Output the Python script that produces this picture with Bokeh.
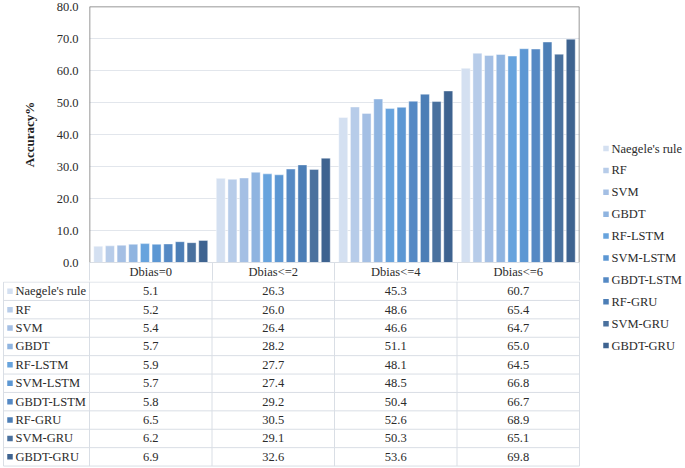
import numpy as np
from bokeh.plotting import figure
from bokeh.models import Range1d, FixedTicker, NumeralTickFormatter, Span
from bokeh.layouts import row, column
from bokeh.embed import file_html
from bokeh.resources import INLINE
from bokeh.core.properties import value

# ---------------- data ----------------
groups = ["Dbias=0", "Dbias<=2", "Dbias<=4", "Dbias<=6"]
series_names = ["Naegele's rule", "RF", "SVM", "GBDT", "RF-LSTM", "SVM-LSTM",
                "GBDT-LSTM", "RF-GRU", "SVM-GRU", "GBDT-GRU"]
naegele = [5.1, 26.3, 45.3, 60.7]
rf = [5.2, 26.0, 48.6, 65.4]
svm = [5.4, 26.4, 46.6, 64.7]
gbdt = [5.7, 28.2, 51.1, 65.0]
rf_lstm = [5.9, 27.7, 48.1, 64.5]
svm_lstm = [5.7, 27.4, 48.5, 66.8]
gbdt_lstm = [5.8, 29.2, 50.4, 66.7]
rf_gru = [6.5, 30.5, 52.6, 68.9]
svm_gru = [6.2, 29.1, 50.3, 65.1]
gbdt_gru = [6.9, 32.6, 53.6, 69.8]
series_values = [naegele, rf, svm, gbdt, rf_lstm, svm_lstm, gbdt_lstm, rf_gru, svm_gru, gbdt_gru]
y_ticks = [0, 10, 20, 30, 40, 50, 60, 70, 80]

colors = ["#d4e0f1", "#b7cce9", "#a4bfe4", "#8fb4e0", "#67a3dd", "#5c97d3",
          "#5589c4", "#4c7eb6", "#4a719e", "#3e6390"]

# ---------------- layout constants ----------------
FONT = "Liberation Serif"
TXT = "#2b2b2b"
GRID = "#e2e6ec"
TABLE_LINE = "#d9dee5"
FRAME = "#767676"

n_s = len(series_names)
n_g = len(groups)
PAD = 0.25
GW = n_s + 2 * PAD           # width of one group in slot units
X_END = GW * n_g
BAR_W = 0.77
FRAME_W = 490
LEFT_PX = 89                 # page x of the plot frame
AXIS_W = 88                  # width of the y-axis figure
RIGHT_PX = 16
MAIN_W = LEFT_PX + FRAME_W + RIGHT_PX
PX = FRAME_W / X_END         # px per slot
TOP_B = 6
PLOT_H = 257
HEAD_H = 18
TOP_H = TOP_B + PLOT_H + HEAD_H
H_ALL = 468
TAB_H = H_ALL - TOP_H
ROW_PX = 18.4
LEG_W = 685 - MAIN_W

y_rng = Range1d(0, 80)

# ---------------- y axis figure ----------------
pax = figure(width=AXIS_W, height=TOP_H, x_range=Range1d(0, 1), y_range=y_rng,
             x_axis_location=None, toolbar_location=None, output_backend="svg",
             min_border_left=AXIS_W - 1, min_border_right=0,
             min_border_top=TOP_B, min_border_bottom=HEAD_H)
pax.outline_line_color = None
pax.xgrid.visible = False
pax.ygrid.visible = False
ay = pax.yaxis[0]
ay.ticker = FixedTicker(ticks=y_ticks)
ay.formatter = NumeralTickFormatter(format="0.0")
ay.axis_line_color = None
ay.major_tick_line_color = None
ay.minor_tick_line_color = None
ay.major_tick_out = 0
ay.major_tick_in = 0
ay.major_label_standoff = 9
ay.major_label_text_font = FONT
ay.major_label_text_font_size = "12.5px"
ay.major_label_text_color = TXT
ay.axis_label = "Accuracy%"
ay.axis_label_text_font = FONT
ay.axis_label_text_font_size = "13px"
ay.axis_label_text_font_style = "bold"
ay.axis_label_text_color = "#1e1e1e"
ay.axis_label_standoff = 17

# ---------------- chart (with header row as category axis) ----------------
pa = figure(width=MAIN_W - AXIS_W, height=TOP_H, x_range=Range1d(0, X_END), y_range=y_rng,
            y_axis_location=None, toolbar_location=None, output_backend="svg",
            min_border_left=LEFT_PX - AXIS_W, min_border_right=RIGHT_PX,
            min_border_top=TOP_B, min_border_bottom=HEAD_H)
pa.outline_line_color = None
pa.xgrid.visible = False
pa.ygrid.ticker = FixedTicker(ticks=y_ticks)
pa.ygrid.grid_line_color = GRID
pa.ygrid.grid_line_width = 1

centers = [g * GW + GW / 2 for g in range(n_g)]
bounds = [g * GW for g in range(n_g + 1)]
ax = pa.xaxis[0]
ax.ticker = FixedTicker(ticks=centers, minor_ticks=bounds)
ax.major_label_overrides = {c: name for c, name in zip(centers, groups)}
ax.axis_line_color = TABLE_LINE
ax.major_tick_line_color = None
ax.major_tick_out = 0
ax.major_tick_in = 0
ax.minor_tick_line_color = TABLE_LINE
ax.minor_tick_out = 0
ax.minor_tick_in = -HEAD_H
ax.major_label_standoff = 2
ax.major_label_text_font = FONT
ax.major_label_text_font_size = "12.5px"
ax.major_label_text_color = TXT

g_idx = np.arange(n_g)
for i, (vals, col) in enumerate(zip(series_values, colors)):
    xs = g_idx * GW + PAD + i + 0.5
    pa.vbar(x=xs, top=vals, width=BAR_W, bottom=0, fill_color=col,
            line_color="white", line_width=0.6, line_alpha=0.7)

for loc, dim in [(0, "height"), (X_END, "height"), (80, "width")]:
    pa.add_layout(Span(location=loc, dimension=dim, line_color=FRAME, line_width=1.5))

# ---------------- data table rows ----------------
x_left = -LEFT_PX / PX
x_right = X_END + RIGHT_PX / PX
eps = 0.03
pb = figure(width=MAIN_W, height=TAB_H, x_range=Range1d(x_left, x_right),
            y_range=Range1d(TAB_H / ROW_PX - eps, -eps),
            x_axis_location=None, y_axis_location=None, toolbar_location=None,
            output_backend="svg", min_border=0)
pb.outline_line_color = None
pb.xgrid.visible = False
pb.ygrid.visible = False

TL = (3 - LEFT_PX) / PX      # table left border
SQ_X = (9.5 - LEFT_PX) / PX  # key square
LB_X = (15 - LEFT_PX) / PX   # row label text

x0s, y0s, x1s, y1s = [], [], [], []
for k in range(0, n_s + 1):
    x0s.append(TL); y0s.append(k); x1s.append(X_END); y1s.append(k)
for b in bounds:
    x0s.append(b); y0s.append(-eps); x1s.append(b); y1s.append(n_s)
x0s.append(TL); y0s.append(0); x1s.append(TL); y1s.append(n_s)
pb.segment(x0=x0s, y0=y0s, x1=x1s, y1=y1s, line_color=TABLE_LINE, line_width=1)

cx, cy, ct = [], [], []
for r, vals in enumerate(series_values):
    for g, v in enumerate(vals):
        cx.append(centers[g])
        cy.append(r + 0.5)
        ct.append(f"{v:.1f}")
pb.text(x=cx, y=cy, text=ct, text_font=value(FONT), text_font_size="12.5px",
        text_align="center", text_baseline="middle", text_color=TXT)

row_y = np.arange(n_s) + 0.5
pb.scatter(x=[SQ_X] * n_s, y=row_y, marker="square", size=5.5, fill_color=colors, line_color=None)
pb.text(x=[LB_X] * n_s, y=row_y, text=series_names, text_font=value(FONT),
        text_font_size="12.5px", text_align="left", text_baseline="middle", text_color=TXT)

# ---------------- legend ----------------
LEG_TOP = 148
LEG_STEP = 21.9
pl = figure(width=LEG_W, height=H_ALL, x_range=Range1d(0, LEG_W),
            y_range=Range1d((H_ALL - LEG_TOP) / LEG_STEP, -LEG_TOP / LEG_STEP),
            x_axis_location=None, y_axis_location=None, toolbar_location=None,
            output_backend="svg", min_border=0)
pl.outline_line_color = None
pl.xgrid.visible = False
pl.ygrid.visible = False
leg_y = np.arange(n_s)
pl.scatter(x=[10.5] * n_s, y=leg_y, marker="square", size=5.5, fill_color=colors, line_color=None)
pl.text(x=[16.0] * n_s, y=leg_y, text=series_names, text_font=value(FONT),
        text_font_size="12.5px", text_align="left", text_baseline="middle", text_color=TXT)

layout = row(column(row(pax, pa), pb), pl)
open("out.html", "w").write(file_html(layout, INLINE))
